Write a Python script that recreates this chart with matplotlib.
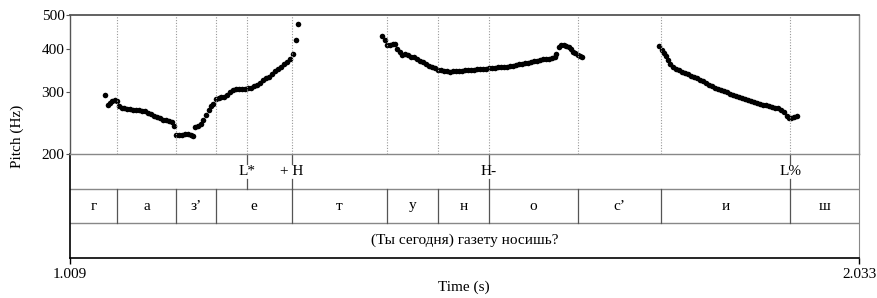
import matplotlib
matplotlib.use("Agg")
import matplotlib.pyplot as plt
from matplotlib.ticker import FixedLocator, FixedFormatter, NullLocator

T_START, T_END = 1.009, 2.033

# segment tier (boundaries between the 11 intervals)
seg_bounds = [1.070, 1.1466, 1.1985, 1.2971, 1.4204, 1.4866, 1.5528, 1.6683, 1.776, 1.9435]
seg_labels = ["г", "а", "з’", "е", "т", "у", "н", "о", "с’", "и", "ш"]

# tone tier (points)
tone_times = [1.2387, 1.2971, 1.5528, 1.9435]
tone_labels = ["L*", "+ H", "H-", "L%"]

sentence = "(Ты сегодня) газету носишь?"

# pitch track, three voiced stretches
t1 = [1.054, 1.058, 1.061, 1.064, 1.067, 1.070, 1.073, 1.076, 1.079, 1.083,
      1.087, 1.091, 1.095, 1.099, 1.102, 1.106, 1.110, 1.114, 1.118, 1.122,
      1.126, 1.130, 1.134, 1.138, 1.141, 1.144, 1.147, 1.151, 1.154, 1.158,
      1.162, 1.166, 1.168, 1.171, 1.175, 1.179, 1.182, 1.185, 1.189, 1.192,
      1.195, 1.198, 1.202, 1.205, 1.209, 1.213, 1.217, 1.221, 1.224, 1.228,
      1.232, 1.236, 1.240, 1.244, 1.248, 1.252, 1.256, 1.259, 1.263, 1.267,
      1.271, 1.275, 1.279, 1.283, 1.287, 1.291, 1.295, 1.298, 1.302, 1.305]
f1 = [295, 277, 280, 284, 286, 284, 274, 271, 270, 269,
      269, 268, 268, 267, 266, 265, 262, 260, 257, 255,
      253, 251, 250, 249, 247, 240, 227, 227, 227, 228,
      228, 226, 225, 239, 241, 244, 250, 259, 268, 274,
      279, 287, 290, 291, 292, 295, 300, 305, 306, 306,
      306, 306, 308, 310, 313, 316, 320, 325, 329, 333,
      339, 345, 350, 356, 362, 367, 374, 387, 424, 471]

t2 = [1.4135, 1.4178, 1.4208, 1.4243, 1.428, 1.4314, 1.434, 1.437, 1.4405, 1.4437,
      1.4476, 1.4515, 1.4554, 1.4593, 1.4632, 1.4671, 1.471, 1.4749, 1.4788, 1.4827,
      1.4866, 1.4905, 1.4944, 1.4983, 1.502, 1.506, 1.510, 1.514, 1.518, 1.522,
      1.526, 1.5294, 1.5333, 1.5372, 1.541, 1.545, 1.549, 1.553, 1.557, 1.561,
      1.565, 1.568, 1.572, 1.576, 1.580, 1.584, 1.588, 1.592, 1.596, 1.600,
      1.603, 1.607, 1.611, 1.615, 1.619, 1.623, 1.627, 1.631, 1.635, 1.638,
      1.640, 1.643, 1.646, 1.650, 1.653, 1.656, 1.659, 1.662, 1.665, 1.668,
      1.671, 1.673]
f2 = [436, 424, 410, 409, 412, 413, 400, 393, 384, 386,
      383, 380, 378, 374, 370, 366, 362, 358, 355, 352,
      349, 347, 346, 345, 344, 345, 345, 346, 346, 347,
      348, 348, 349, 350, 350, 350, 351, 353, 353, 353,
      354, 354, 355, 356, 357, 358, 360, 361, 362, 364,
      365, 366, 368, 370, 372, 373, 374, 375, 376, 378,
      387, 406, 409, 410, 408, 404, 399, 393, 390, 384,
      382, 378]

t3 = [1.7738, 1.7769, 1.7799, 1.7825, 1.7851, 1.7883, 1.7916, 1.7955, 1.7994, 1.8033,
      1.8072, 1.8111, 1.815, 1.8189, 1.8228, 1.8266, 1.8305, 1.8344, 1.8383, 1.8422,
      1.8461, 1.850, 1.8539, 1.8578, 1.8617, 1.8656, 1.8695, 1.8734, 1.8773, 1.8812,
      1.8851, 1.889, 1.8928, 1.8967, 1.9006, 1.9045, 1.9084, 1.9123, 1.9162, 1.9201,
      1.924, 1.9279, 1.9318, 1.9357, 1.939, 1.9422, 1.9448, 1.948, 1.952]
f3 = [408, 397, 388, 382, 372, 361, 355, 350, 347, 344,
      341, 338, 335, 332, 329, 326, 323, 320, 316, 313,
      309, 306, 304, 302, 300, 297, 295, 293, 291, 289,
      288, 286, 284, 282, 280, 279, 277, 276, 274, 273,
      271, 270, 267, 263, 257, 253, 254, 255, 257]

plt.rcParams["font.family"] = ["Liberation Serif", "DejaVu Serif"]
plt.rcParams["font.size"] = 11

W, H = 878, 298
fig = plt.figure(figsize=(W / 100, H / 100), dpi=100)

x0, x1 = 70, 859
y_top, y_pitch, y_bot = 15, 154, 258
ax_t = fig.add_axes([x0 / W, 1 - y_bot / H, (x1 - x0) / W, (y_bot - y_pitch) / H])
ax_p = fig.add_axes([x0 / W, 1 - y_pitch / H, (x1 - x0) / W, (y_pitch - y_top) / H])
ax_t.patch.set_visible(False)
ax_p.patch.set_visible(False)

GRID = "#888888"
DARK = "#555555"

# pitch panel
for tt, ff in [(t1, f1), (t2, f2), (t3, f3)]:
    ax_p.plot(tt, ff, "o", color="black", ms=4.0, mew=0, clip_on=False)
for b in sorted(set(seg_bounds + tone_times)):
    ax_p.axvline(b, color="#999999", lw=0.8, ls=(0, (1, 1.5)))
ax_p.set_yscale("log")
ax_p.set_ylim(200, 500)
ax_p.set_xlim(T_START, T_END)
ax_p.yaxis.set_major_locator(FixedLocator([200, 300, 400, 500]))
ax_p.yaxis.set_major_formatter(FixedFormatter(["200", "300", "400", "500"]))
ax_p.yaxis.set_minor_locator(NullLocator())
ax_p.tick_params(axis="y", length=3, width=0.8, pad=1, labelsize=11, color=DARK)
ax_p.set_xticks([])
for s in ["top", "right", "bottom"]:
    ax_p.spines[s].set_color(GRID)
    ax_p.spines[s].set_linewidth(1.0)
ax_p.spines["top"].set_color(DARK)
ax_p.spines["top"].set_linewidth(1.3)
ax_p.spines["left"].set_color(DARK)
ax_p.spines["left"].set_linewidth(1.0)

# tiers
ax_t.set_xlim(T_START, T_END)
ax_t.set_ylim(0, 3)
ax_t.axhline(1, color=GRID, lw=1.0)
ax_t.axhline(2, color=GRID, lw=1.0)

edges = [T_START] + seg_bounds + [T_END]
for b in seg_bounds:
    ax_t.plot([b, b], [1, 2], color=DARK, lw=0.9)
for i, lab in enumerate(seg_labels):
    ax_t.text((edges[i] + edges[i + 1]) / 2, 1.5, lab, ha="center", va="center")

for tp, lab in zip(tone_times, tone_labels):
    ax_t.plot([tp, tp], [2.72, 3], color=DARK, lw=0.9)
    ax_t.plot([tp, tp], [2, 2.28], color=DARK, lw=0.9)
    ax_t.text(tp, 2.5, lab, ha="center", va="center")

ax_t.text((T_START + T_END) / 2, 0.5, sentence, ha="center", va="center")

ax_t.set_yticks([])
ax_t.set_xticks([T_START, T_END])
ax_t.set_xticklabels(["1.009", "2.033"])
ax_t.tick_params(axis="x", length=4, width=1.0, pad=3, labelsize=11)
ax_t.spines["top"].set_visible(False)
ax_t.spines["right"].set_color(GRID)
ax_t.spines["left"].set_color("black")
ax_t.spines["left"].set_linewidth(1.2)
ax_t.spines["bottom"].set_color("black")
ax_t.spines["bottom"].set_linewidth(1.2)

fig.text(17 / W, 1 - 136 / H, "Pitch (Hz)", rotation=90, ha="center", va="center")
fig.text(464 / W, 1 - 287 / H, "Time (s)", ha="center", va="center")

fig.savefig("out.png", dpi=100)
